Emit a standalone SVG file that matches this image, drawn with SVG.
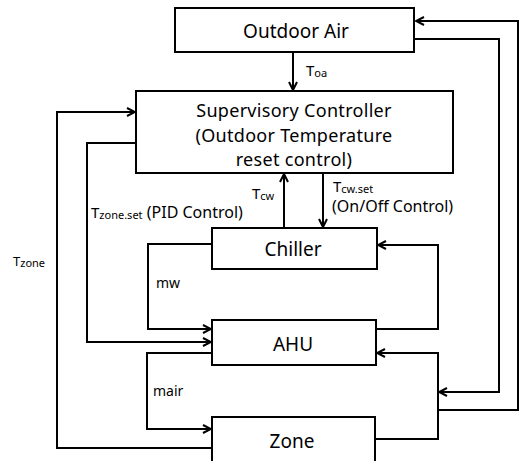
<svg xmlns="http://www.w3.org/2000/svg" width="525" height="461" viewBox="0 0 525 461">
<defs>
<style>
.box{fill:#fff;stroke:#000;stroke-width:2}
.t{font-family:"Noto Sans","Open Sans",sans-serif;fill:#000;text-anchor:middle;font-size:19px}
.sc{font-size:18px;letter-spacing:0.3px}
.lbl{font-family:"Noto Sans","Open Sans",sans-serif;font-size:15px;fill:#000}
.sub{font-size:11px}
.c{fill:none;stroke:#000;stroke-width:2;marker-end:url(#ah)}
</style>
<marker id="ah" viewBox="0 0 10 10" refX="9" refY="5" markerWidth="10" markerHeight="10" markerUnits="userSpaceOnUse" orient="auto">
<path d="M1,1 L9,5 L1,9" fill="none" stroke="#000" stroke-width="2"/>
</marker>
</defs>
<rect width="525" height="461" fill="#fff"/>
<g id="connectors">
<path class="c" d="M293,52 V90"/>
<path class="c" d="M284,228 V174"/>
<path class="c" d="M323,173 V227"/>
<path class="c" d="M212,448 H57 V112 H135"/>
<path class="c" d="M136,143 H87 V342 H211"/>
<path class="c" d="M212,244 H148 V329 H211"/>
<path class="c" d="M376,329 H438 V245 H378"/>
<path class="c" d="M212,353 H147 V429 H211"/>
<path class="c" d="M375,439 H438 V353 H377"/>
<path class="c" d="M414,39 H499 V392 H439"/>
<path class="c" d="M438,410 H518 V21 H416"/>
</g>
<g id="outdoor-air">
<rect class="box" x="175" y="8" width="239" height="44"/>
<text class="t" x="296" y="38">Outdoor Air</text>
</g>
<g id="supervisory-controller">
<rect class="box" x="136" y="91" width="317" height="82"/>
<text class="t sc" x="294" y="117">Supervisory Controller</text>
<text class="t sc" x="294" y="142">(Outdoor Temperature</text>
<text class="t sc" x="294" y="166">reset control)</text>
</g>
<g id="chiller">
<rect class="box" x="212" y="228" width="165" height="41"/>
<text class="t" x="293" y="256">Chiller</text>
</g>
<g id="ahu">
<rect class="box" x="212" y="320" width="164" height="45"/>
<text class="t" x="293" y="351">AHU</text>
</g>
<g id="zone">
<rect class="box" x="212" y="417" width="163" height="50"/>
<text class="t" x="292" y="448">Zone</text>
</g>
<g id="labels">
<text class="lbl" x="306" y="76">T<tspan class="sub" dy="1">oa</tspan></text>
<text class="lbl" x="252" y="199">T<tspan class="sub" dy="1">cw</tspan></text>
<text class="lbl" x="333" y="192">T<tspan class="sub" dy="1">cw.set</tspan></text>
<text class="lbl" x="332" y="212" style="font-size:16px">(On/Off Control)</text>
<text class="lbl" x="91" y="218">T<tspan class="sub" dy="1">zone.set</tspan><tspan dy="-1" style="font-size:16px"> (PID Control)</tspan></text>
<text class="lbl" x="13" y="266" style="font-size:13px">T<tspan class="sub" dy="1">zone</tspan></text>
<text class="lbl" x="156" y="288" style="font-size:14px">mw</text>
<text class="lbl" x="153" y="396" style="font-size:14px">mair</text>
</g>
</svg>
